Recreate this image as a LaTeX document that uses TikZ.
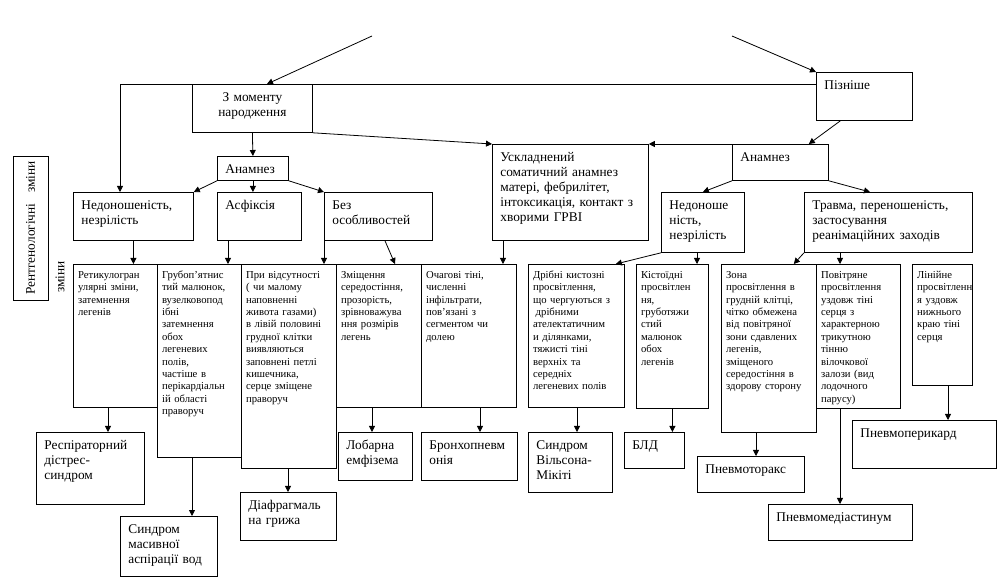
\documentclass[tikz,border=0pt]{standalone}
\usepackage{fontspec}
\setmainfont{Liberation Serif}
\usetikzlibrary{arrows.meta,calc}

% paddings and first-line heights of the box styles (pt)
\def\padbig{6}\def\thbig{9.5}
\def\padbigc{6}\def\thbigc{9.5}
\def\padsmall{3.5}\def\thsmall{7.5}

\tikzset{
  big/.style={draw, line width=0.6pt, inner xsep=6pt, inner ysep=3pt, text height=9.5pt, align=left, font=\fontsize{10}{11.25}\selectfont},
  bigc/.style={big, align=center},
  small/.style={draw, line width=0.6pt, inner xsep=3.5pt, inner ysep=3pt, text height=7.5pt, align=left, font=\fontsize{8}{9.3}\selectfont},
  arr/.style={-{Triangle[length=4.5pt,width=4.5pt]}, line width=0.6pt}
}

% box: style, name, left, top, right, bottom (pixels), text
\newcommand{\bx}[7]{%
  \pgfmathsetmacro\bxw{(#5-#3)*0.75-2*\csname pad#1\endcsname}%
  \pgfmathsetmacro\bxd{(#6-#4)*0.75-\csname th#1\endcsname-6}%
  \node[#1, text width=\bxw pt, text depth=\bxd pt, anchor=north west] (#2) at (#3,#4) {#7};}

\begin{document}
\begin{tikzpicture}[x=0.75pt, y=-0.75pt]
\useasboundingbox (0,0) rectangle (997,577);

% top level
\bx{bigc}{moment}{192}{84}{312}{132}{З моменту\\народження}
\bx{big}{late}{816}{72}{912}{120}{Пізніше}
\bx{big}{anam1}{217}{156}{288}{180}{Анамнез}
\bx{big}{anam2}{732}{144}{828}{180}{Анамнез}
\bx{big}{nedon1}{73}{192}{193}{240}{Недоношеність,\\незрілість}
\bx{big}{asf}{217}{192}{301}{240}{Асфіксія}
\bx{big}{bez}{324}{192}{432}{240}{Без\\особливостей}
\bx{big}{usk}{492}{144}{648}{240}{Ускладнений\\соматичний анамнез\\матері, фебрилітет,\\інтоксикація, контакт з\\хворими ГРВІ}
\bx{big}{nedon2}{661}{192}{744}{252}{Недоноше\\ність,\\незрілість}
\bx{big}{trav}{804}{192}{972}{252}{Травма, переношеність,\\застосування\\реанімаційних заходів}

% x-ray signs
\bx{small}{ret}{73}{264}{157}{407}{Ретикулогран\\улярні зміни,\\затемнення\\легенів}
\bx{small}{grub}{157}{264}{241}{457}{Грубоп'ятнис\\тий малюнок,\\вузелковопод\\ібні\\затемнення\\обох\\легеневих\\полів,\\частіше в\\перікардіальн\\ій області\\праворуч}
\bx{small}{pri}{241}{264}{336}{468}{При відсутності\\( чи малому\\наповненні\\живота газами)\\в лівій половині\\грудної клітки\\виявляються\\заповнені петлі\\кишечника,\\серце зміщене\\праворуч}
\bx{small}{zmish}{336}{264}{421}{407}{Зміщення\\середостіння,\\прозорість,\\зрівноважува\\ння розмірів\\легень}
\bx{small}{och}{421}{264}{516}{407}{Очагові тіні,\\численні\\інфільтрати,\\пов'язані з\\сегментом чи\\долею}
\bx{small}{dribni}{528}{264}{624}{407}{Дрібні кистозні\\просвітлення,\\що чергуються з\\\hspace*{2pt}дрібними\\ателектатичним\\и ділянками,\\тяжисті тіні\\верхніх та\\середніх\\легеневих полів}
\bx{small}{kist}{636}{264}{708}{408}{Кістоїдні\\просвітлен\\ня,\\груботяжи\\стий\\малюнок\\обох\\легенів}
\bx{small}{zona}{721}{264}{816}{432}{Зона\\просвітлення в\\грудній клітці,\\чітко обмежена\\від повітряної\\зони сдавлених\\легенів,\\зміщеного\\середостіння в\\здорову сторону}
\bx{small}{pov}{816}{264}{900}{408}{Повітряне\\просвітлення\\уздовж тіні\\серця з\\характерною\\трикутною\\тінню\\вілочкової\\залози (вид\\лодочного\\парусу)}
\bx{small}{lin}{912}{264}{972}{385}{Лінійне\\просвітленн\\я уздовж\\нижнього\\краю тіні\\серця}

% diagnoses
\bx{big}{resp}{36}{432}{144}{504}{Респіраторний\\дістрес-\\синдром}
\bx{big}{sma}{120}{516}{217}{576}{Синдром\\масивної\\аспірації вод}
\bx{big}{diaf}{240}{492}{336}{540}{Діафрагмаль\\на грижа}
\bx{big}{lob}{338}{432}{412}{480}{Лобарна\\емфізема}
\bx{big}{bronx}{421}{432}{517}{480}{Бронхопневм\\онія}
\bx{big}{wils}{528}{432}{612}{492}{Синдром\\Вільсона-\\Мікіті}
\bx{big}{bld}{624}{432}{684}{468}{БЛД}
\bx{big}{ptx}{697}{456}{804}{492}{Пневмоторакс}
\bx{big}{pmed}{768}{504}{912}{540}{Пневмомедіастинум}
\bx{big}{pper}{852}{420}{996}{468}{Пневмоперикард}

% side label
\node [draw, line width=0.6pt, rotate=90, minimum width=108pt, minimum height=26.25pt, inner sep=0pt, font=\fontsize{10}{11.25}\selectfont] (rtg) at (30.5,228) {Рентгенологічні\hspace{8pt}зміни};
\node [rotate=90, inner sep=0pt, font=\fontsize{10}{11.25}\selectfont] (rtg2) at (60,277) {зміни};

% arrows from the top
\coordinate (topL) at (372,36); \coordinate (topR) at (732,36);
\draw[arr] (topL) -- ($(moment.north west)+(75,0)$);
\draw[arr] (topR) -- (late.north west);
\draw[arr] (late.west |- moment.north) -| (120,0 |- nedon1.north);
\draw[arr] (moment.south) -- (anam1.north);
\draw[arr] (moment.south east) -- (usk.north west);
\draw[arr] (anam1.south west) -- (nedon1.north east);
\draw[arr] (anam1.south) -- (anam1.south |- asf.north);
\draw[arr] (anam1.south east) -- (bez.north west);
\draw[arr] ($(late.south)+(-24,0)$) -- ($(anam2.north east)+(-20,0)$);
\draw[arr] (anam2.north west) -- (usk.north east);
\draw[arr] (anam2.south west) -- (nedon2.north);
\draw[arr] (anam2.south east) -- ($(trav.north west)+(66,0)$);

% to the x-ray signs
\draw[arr] (nedon1.south) -- (nedon1.south |- ret.north);
\draw[arr] (228,0 |- asf.south) -- (228,0 |- grub.north);
\draw[arr] (bez.south west) -- (bez.south west |- pri.north);
\draw[arr] ($(bez.south west)+(61,0)$) -- ($(zmish.north west)+(59,0)$);
\draw[arr] (503,0 |- usk.south) -- (503,0 |- och.north);
\draw[arr] (nedon2.south west) -- ($(dribni.north east)+(-9,0)$);
\draw[arr] (697,0 |- nedon2.south) -- (697,0 |- kist.north);
\draw[arr] (trav.south west) -- ($(zona.north east)+(-23,0)$);
\draw[arr] (840,0 |- trav.south) -- (840,0 |- pov.north);

% to the diagnoses
\draw[arr] (108,0 |- ret.south) -- (108,0 |- resp.north);
\draw[arr] (192,0 |- grub.south) -- (192,0 |- sma.north);
\draw[arr] (288,0 |- pri.south) -- (288,0 |- diaf.north);
\draw[arr] (372,0 |- zmish.south) -- (372,0 |- lob.north);
\draw[arr] (480,0 |- och.south) -- (480,0 |- bronx.north);
\draw[arr] (577,0 |- dribni.south) -- (577,0 |- wils.north);
\draw[arr] (kist.south) -- (kist.south |- bld.north);
\draw[arr] (756,0 |- zona.south) -- (756,0 |- ptx.north);
\draw[arr] (840,0 |- pov.south) -- (840,0 |- pmed.north);
\draw[arr] (948,0 |- lin.south) -- (948,0 |- pper.north);

\end{tikzpicture}
\end{document}
